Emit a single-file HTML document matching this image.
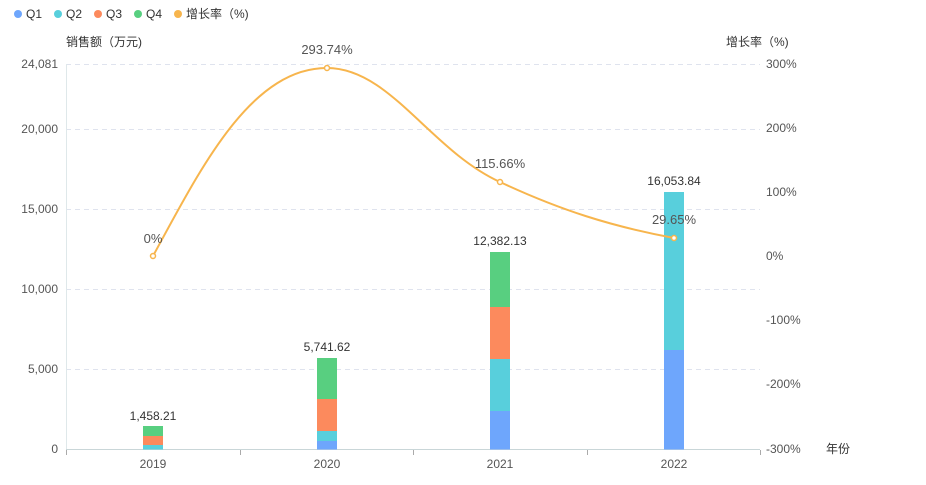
<!DOCTYPE html>
<html><head><meta charset="utf-8"><style>
body{margin:0;background:#fff;}
svg text{font-family:"Liberation Sans","Noto Sans CJK SC",sans-serif;}
</style></head><body>
<svg width="926" height="480" xmlns="http://www.w3.org/2000/svg">
<!-- legend -->
<g font-size="12" fill="#333">
<circle cx="18" cy="14" r="4" fill="#6ea6fc"/><text x="26" y="18">Q1</text>
<circle cx="58" cy="14" r="4" fill="#58cfdc"/><text x="66" y="18">Q2</text>
<circle cx="98" cy="14" r="4" fill="#fc8a5d"/><text x="106" y="18">Q3</text>
<circle cx="138" cy="14" r="4" fill="#58cf80"/><text x="146" y="18">Q4</text>
<circle cx="178" cy="14" r="4" fill="#f7b54d"/><text x="186" y="18">增长率（%)</text>
</g>
<text x="66" y="46" font-size="12" fill="#333">销售额（万元)</text>
<text x="726" y="46" font-size="12" fill="#333">增长率（%)</text>
<!-- grid -->
<g stroke="#dfe3ee" stroke-dasharray="5,4" stroke-width="1">
<line x1="66" x2="760" y1="64.5" y2="64.5"/>
<line x1="66" x2="760" y1="129.5" y2="129.5"/>
<line x1="66" x2="760" y1="209.5" y2="209.5"/>
<line x1="66" x2="760" y1="289.5" y2="289.5"/>
<line x1="66" x2="760" y1="369.5" y2="369.5"/>
</g>
<line x1="66.5" x2="66.5" y1="64" y2="450" stroke="#dfe8ea"/>
<line x1="66" x2="760" y1="449.5" y2="449.5" stroke="#c9d6d8"/>
<g stroke="#aaa"><line x1="66.5" x2="66.5" y1="450" y2="455"/><line x1="240.5" x2="240.5" y1="450" y2="455"/><line x1="413.5" x2="413.5" y1="450" y2="455"/><line x1="587.5" x2="587.5" y1="450" y2="455"/><line x1="760.5" x2="760.5" y1="450" y2="455"/></g>
<g font-size="12" fill="#555" text-anchor="end">
<text x="58" y="68">24,081</text><text x="58" y="133">20,000</text><text x="58" y="213">15,000</text><text x="58" y="293">10,000</text><text x="58" y="373">5,000</text><text x="58" y="453">0</text>
</g>
<g font-size="12" fill="#555">
<text x="766" y="68">300%</text><text x="766" y="132">200%</text><text x="766" y="196">100%</text><text x="766" y="260">0%</text><text x="766" y="324">-100%</text><text x="766" y="388">-200%</text><text x="766" y="453">-300%</text>
<text x="826" y="453" fill="#333">年份</text>
</g>
<g font-size="12" fill="#555" text-anchor="middle">
<text x="153" y="468">2019</text><text x="327" y="468">2020</text><text x="500" y="468">2021</text><text x="674" y="468">2022</text>
</g>
<!-- bars -->
<g>
<rect x="143" y="445" width="20" height="4.5" fill="#58cfdc"/>
<rect x="143" y="436" width="20" height="9" fill="#fc8a5d"/>
<rect x="143" y="426" width="20" height="10" fill="#58cf80"/>
<rect x="317" y="441" width="20" height="8.5" fill="#6ea6fc"/>
<rect x="317" y="431" width="20" height="10" fill="#58cfdc"/>
<rect x="317" y="399" width="20" height="32" fill="#fc8a5d"/>
<rect x="317" y="358" width="20" height="41" fill="#58cf80"/>
<rect x="490" y="411" width="20" height="38.5" fill="#6ea6fc"/>
<rect x="490" y="359" width="20" height="52" fill="#58cfdc"/>
<rect x="490" y="307" width="20" height="52" fill="#fc8a5d"/>
<rect x="490" y="252" width="20" height="55" fill="#58cf80"/>
<rect x="664" y="350" width="20" height="99.5" fill="#6ea6fc"/>
<rect x="664" y="192" width="20" height="158" fill="#58cfdc"/>
</g>
<g font-size="12" fill="#333" text-anchor="middle">
<text x="153" y="420">1,458.21</text><text x="327" y="351">5,741.62</text><text x="500" y="245">12,382.13</text><text x="674" y="185">16,053.84</text>
</g>
<!-- line -->
<path d="M153,256 C200,170 250,68 327,68 C390,68 430,150 500,182 C560,210 610,226 674,238" fill="none" stroke="#f7b54d" stroke-width="2"/>
<g fill="#fff" stroke="#f7b54d" stroke-width="1.5">
<circle cx="153" cy="256" r="2.5"/><circle cx="327" cy="68" r="2.5"/><circle cx="500" cy="182" r="2.5"/><circle cx="674" cy="238" r="2.5"/>
</g>
<g font-size="13" fill="#555" text-anchor="middle">
<text x="153" y="243">0%</text><text x="327" y="54">293.74%</text><text x="500" y="168">115.66%</text><text x="674" y="224">29.65%</text>
</g>
</svg>
</body></html>
